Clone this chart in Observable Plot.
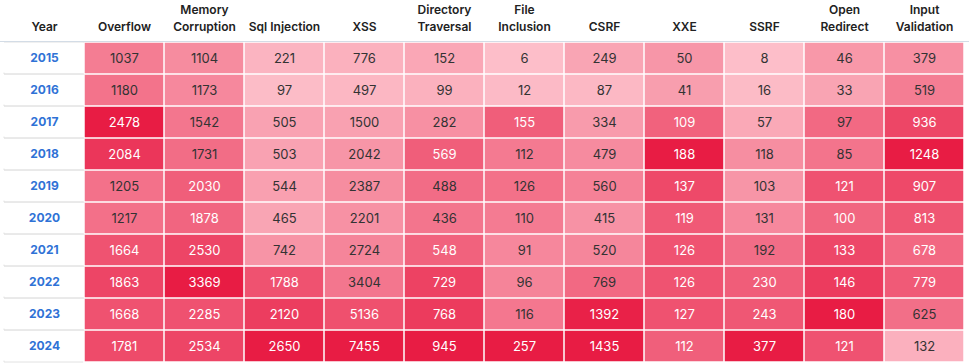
<!DOCTYPE html>
<html><head><meta charset="utf-8">
<script src="https://cdn.jsdelivr.net/npm/d3@7"></script>
<script src="https://cdn.jsdelivr.net/npm/@observablehq/plot@0.6"></script>
<style>body{margin:0;background:#fff;font-family:Inter,sans-serif}</style>
</head><body><div id="chart"></div><script>
const years = [2015, 2016, 2017, 2018, 2019, 2020, 2021, 2022, 2023, 2024];
const categories = ["Overflow","Memory Corruption","Sql Injection","XSS","Directory Traversal","File Inclusion","CSRF","XXE","SSRF","Open Redirect","Input Validation"];
const headerLabels = ["Overflow","Memory\nCorruption","Sql Injection","XSS","Directory\nTraversal","File\nInclusion","CSRF","XXE","SSRF","Open\nRedirect","Input\nValidation"];
const overflow = [1037,1180,2478,2084,1205,1217,1664,1863,1668,1781];
const memoryCorruption = [1104,1173,1542,1731,2030,1878,2530,3369,2285,2534];
const sqlInjection = [221,97,505,503,544,465,742,1788,2120,2650];
const xss = [776,497,1500,2042,2387,2201,2724,3404,5136,7455];
const directoryTraversal = [152,99,282,569,488,436,548,729,768,945];
const fileInclusion = [6,12,155,112,126,110,91,96,116,257];
const csrf = [249,87,334,479,560,415,520,769,1392,1435];
const xxe = [50,41,109,188,137,119,126,126,127,112];
const ssrf = [8,16,57,118,103,131,192,230,243,377];
const openRedirect = [46,33,97,85,121,100,133,146,180,121];
const inputValidation = [379,519,936,1248,907,813,678,779,625,132];

const series = [overflow, memoryCorruption, sqlInjection, xss, directoryTraversal, fileInclusion, csrf, xxe, ssrf, openRedirect, inputValidation];
const rows = [];
categories.forEach((c, i) => {
  const vals = series[i];
  const max = d3.max(vals);
  vals.forEach((v, j) => rows.push({cat: c, year: String(years[j]), value: v, t: v / max}));
});
const headers = [{cat: "Year", label: "Year"}, ...categories.map((c, i) => ({cat: c, label: headerLabels[i]}))];

const W = 975, H = 363, MT = 41, MB = 1, ML = 0, MR = 7;
const bw = (W - ML - MR) / (categories.length + 1);
const bh = (H - MT - MB) / years.length;

const chart = Plot.plot({
  width: W, height: H,
  marginTop: MT, marginBottom: MB, marginLeft: ML, marginRight: MR,
  x: {domain: ["Year", ...categories], axis: null, padding: 0},
  y: {domain: years.map(String), axis: null, padding: 0},
  color: {type: "linear", domain: [0, 1], range: ["#fdc2cc", "#e81c44"], interpolate: "rgb"},
  style: {fontFamily: "Inter, sans-serif", background: "#fff"},
  marks: [
    Plot.cell(years, {x: () => "Year", y: d => String(d), fill: "none", stroke: "#e2e2e2", strokeWidth: 1, strokeDasharray: `${bw} ${bh}`}),
    Plot.cell(rows, {x: "cat", y: "year", fill: "t", inset: 0.75}),
    Plot.text(rows.filter(d => d.t < 0.54), {x: "cat", y: "year", text: d => String(d.value), fill: "#333", fontSize: 13}),
    Plot.text(rows.filter(d => d.t >= 0.54), {x: "cat", y: "year", text: d => String(d.value), fill: "#fff", fontSize: 13}),
    Plot.text(years, {x: () => "Year", y: d => String(d), text: d => String(d), fill: "#2f72d6", fontWeight: 700, fontSize: 12}),
    Plot.text(headers, {x: "cat", text: "label", frameAnchor: "top", lineAnchor: "bottom", dy: -10.5, fontWeight: 600, fontSize: 12, lineHeight: 1.45, fill: "#222"}),
    Plot.frame({anchor: "top", stroke: "#d3dce6"})
  ]
});
document.getElementById("chart").appendChild(chart);
</script></body></html>
